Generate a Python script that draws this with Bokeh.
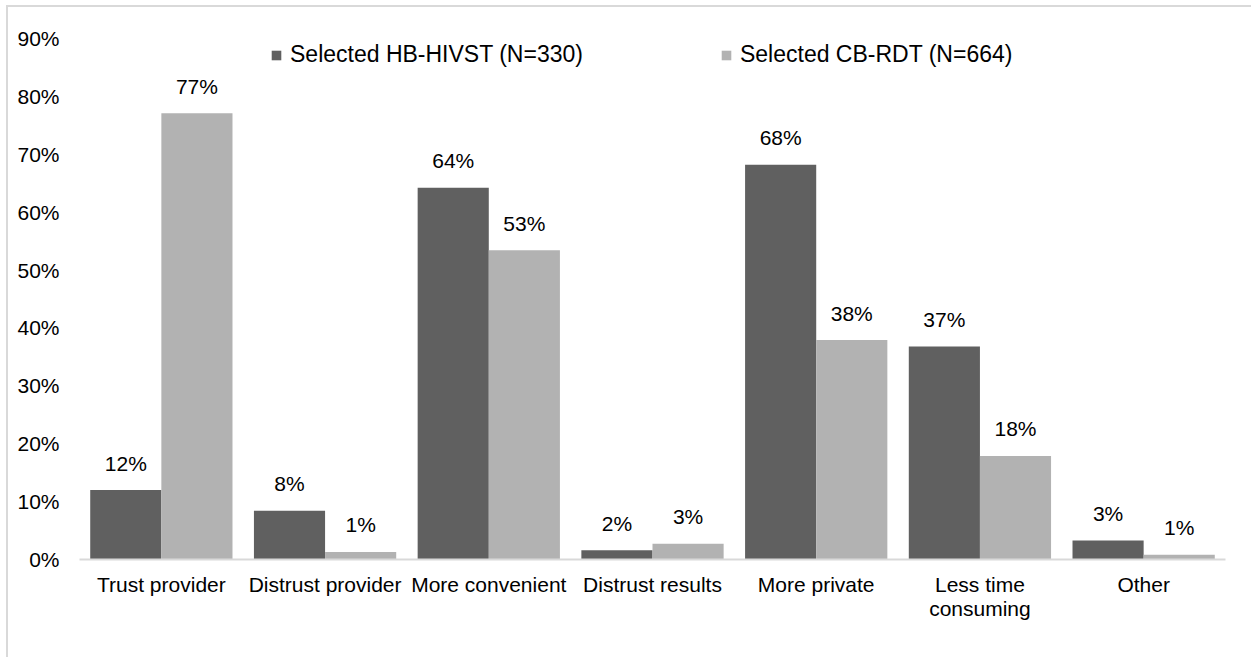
from bokeh.plotting import figure
from bokeh.models import (ColumnDataSource, FactorRange, FixedTicker, NumeralTickFormatter,
                          Legend, LegendItem, CategoricalAxis, CustomJSTickFormatter)
from bokeh.transform import dodge
from bokeh.core.properties import value
from bokeh.embed import file_html
from bokeh.resources import INLINE

categories = ["Trust provider", "Distrust provider", "More convenient", "Distrust results",
              "More private", "Less time consuming", "Other"]
hb_hivst = [12.0, 8.4, 64.2, 1.6, 68.2, 36.8, 3.3]
cb_rdt = [77.1, 1.3, 53.4, 2.7, 37.9, 17.9, 0.8]
series_names = ["Selected HB-HIVST (N=330)", "Selected CB-RDT (N=664)"]
y_ticks = [0, 10, 20, 30, 40, 50, 60, 70, 80, 90]
wrapped_label = ("Less time consuming", "Less time", "consuming")

FONT = "Liberation Sans"
DARK = "#606060"
LIGHT = "#b2b2b2"

src = ColumnDataSource(dict(
    cat=categories,
    hb=[v / 100 for v in hb_hivst],
    cb=[v / 100 for v in cb_rdt],
    hb_lab=[f"{round(v)}%" for v in hb_hivst],
    cb_lab=[f"{round(v)}%" for v in cb_rdt],
))

p = figure(x_range=FactorRange(*categories), y_range=(0, 0.9),
           width=1245, height=652, output_backend="svg", toolbar_location=None,
           min_border_left=71, min_border_right=28, min_border_top=31, min_border_bottom=100,
           outline_line_color=None, margin=(5, 0, 0, 6),
           styles={"border-top": "2px solid #d9d9d9", "border-left": "2px solid #d9d9d9"})

bw = 0.4345
r1 = p.vbar(x=dodge("cat", -bw / 2, range=p.x_range), top="hb", width=bw, source=src,
            fill_color=DARK, line_color=None)
r2 = p.vbar(x=dodge("cat", bw / 2, range=p.x_range), top="cb", width=bw, source=src,
            fill_color=LIGHT, line_color=None)

for col, lab, off in (("hb", "hb_lab", -bw / 2), ("cb", "cb_lab", bw / 2)):
    p.text(x=dodge("cat", off, range=p.x_range), y=col, text=lab, source=src,
           text_align="center", text_baseline="alphabetic", y_offset=-27,
           text_font=value(FONT), text_font_size="21px", text_color="#000000")

p.xgrid.visible = False
p.ygrid.visible = False

p.yaxis.ticker = FixedTicker(ticks=[t / 100 for t in y_ticks])
p.yaxis.formatter = NumeralTickFormatter(format="0%")
p.yaxis.axis_line_color = None
p.yaxis.major_tick_line_color = None
p.yaxis.minor_tick_line_color = None
p.yaxis.major_tick_out = 0
p.yaxis.major_label_standoff = 20
p.yaxis.major_label_text_font = FONT
p.yaxis.major_label_text_font_size = "21px"
p.yaxis.major_label_text_color = "#000000"

p.xaxis.axis_line_color = "#d9d9d9"
p.xaxis.axis_line_width = 2
p.xaxis.major_tick_line_color = None
p.xaxis.major_tick_out = 0
p.xaxis.major_label_standoff = 13
p.xaxis.major_label_text_font = FONT
p.xaxis.major_label_text_font_size = "21px"
p.xaxis.major_label_text_color = "#000000"
# first line of the long category on the main axis ...
p.xaxis.formatter = CustomJSTickFormatter(
    args=dict(full=wrapped_label[0], first=wrapped_label[1]),
    code="return tick == full ? first : tick;")

# ... and its second line on a label-only axis just below
axis2 = CategoricalAxis(
    formatter=CustomJSTickFormatter(args=dict(full=wrapped_label[0], second=wrapped_label[2]),
                                    code="return tick == full ? second : '';"),
    axis_line_color=None, major_tick_line_color=None, major_tick_out=0, major_tick_in=0,
    major_label_standoff=-2, major_label_text_font=FONT, major_label_text_font_size="21px",
    major_label_text_color="#000000")
p.add_layout(axis2, "below")

legend = Legend(items=[LegendItem(label=series_names[0], renderers=[r1]),
                       LegendItem(label=series_names[1], renderers=[r2])],
                orientation="horizontal", location=(191, 491),
                glyph_width=12, glyph_height=12, label_standoff=8, spacing=137,
                padding=0, margin=0, border_line_color=None, background_fill_alpha=0,
                label_text_font=FONT, label_text_font_size="23px", label_text_color="#000000")
p.add_layout(legend)

open("out.html", "w").write(file_html(p, INLINE))
